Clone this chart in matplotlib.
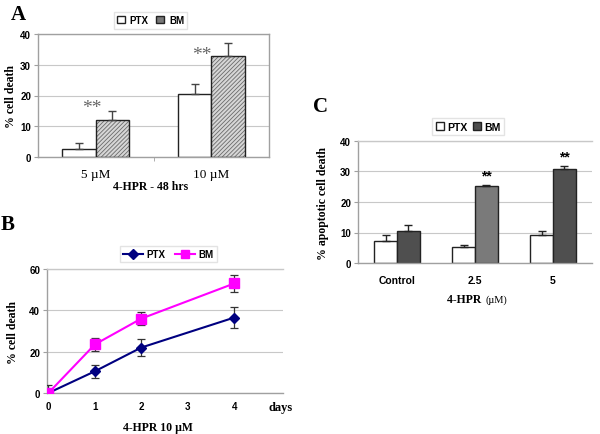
import matplotlib
matplotlib.use("Agg")
import matplotlib.pyplot as plt
import numpy as np
from matplotlib.patches import Patch
from matplotlib.lines import Line2D

plt.rcParams["hatch.linewidth"] = 0.6

# ---------------- data ----------------
# Panel A
a_categories = ["5 µM", "10 µM"]
a_ptx = [2.5, 20.5]
a_ptx_err = [2.0, 3.2]
a_bm = [12.0, 33.0]
a_bm_err = [3.0, 4.2]

# Panel B
b_days = [0, 1, 2, 4]
b_ptx = [0.0, 10.5, 22.0, 36.5]
b_ptx_err = [3.8, 3.0, 4.0, 5.0]
b_bm = [0.0, 23.5, 36.0, 53.0]
b_bm_err = [0.5, 3.0, 3.0, 4.0]

# Panel C
c_categories = ["Control", "2.5", "5"]
c_ptx = [7.2, 5.2, 9.2]
c_ptx_err = [1.9, 0.7, 1.2]
c_bm = [10.4, 25.1, 30.8]
c_bm_err = [2.0, 0.4, 0.9]

W, H = 600, 435
fig = plt.figure(figsize=(6, 4.35), dpi=100)
fig.patch.set_facecolor("white")

SANS = "Liberation Sans"
SERIF = "Liberation Serif"
GRAY = "#a0a0a0"
GRID = "#c8c8c8"


def px_axes(l, t, r, b):
    return fig.add_axes([l / W, 1 - b / H, (r - l) / W, (b - t) / H])


def style_box(ax):
    for s in ax.spines.values():
        s.set_color(GRAY)
        s.set_linewidth(1.0)
    ax.set_axisbelow(True)
    ax.yaxis.grid(True, color=GRID, linewidth=0.8)
    ax.tick_params(axis="y", length=3, color=GRAY, width=0.8, pad=2)
    for lab in ax.get_yticklabels():
        lab.set_fontfamily(SANS)
        lab.set_fontweight("bold")
        lab.set_fontsize(7)


def ftext(x, y, s, **kw):
    fig.text(x / W, 1 - y / H, s, **kw)


# ---------------- Panel A ----------------
axA = px_axes(38, 35, 269, 158)
xa = np.arange(len(a_categories))
bw = 0.29
axA.bar(xa - bw / 2, a_ptx, bw, color="white", edgecolor="#222222", linewidth=1.0, zorder=2)
axA.bar(xa + bw / 2, a_bm, bw, color="#d6d6d6", edgecolor="#6a6a6a", hatch="////////", linewidth=0, zorder=2)
axA.bar(xa + bw / 2, a_bm, bw, color="none", edgecolor="#222222", linewidth=1.0, zorder=3)
axA.errorbar(xa - bw / 2, a_ptx, yerr=[np.zeros(2), a_ptx_err], fmt="none",
             ecolor="#444444", elinewidth=1, capsize=3, capthick=1, zorder=4)
axA.errorbar(xa + bw / 2, a_bm, yerr=[np.zeros(2), a_bm_err], fmt="none",
             ecolor="#444444", elinewidth=1, capsize=3, capthick=1, zorder=4)
axA.set_xlim(-0.5, 1.5)
axA.set_ylim(0, 40)
axA.set_yticks([0, 10, 20, 30, 40])
axA.set_xticks(xa)
axA.set_xticklabels(a_categories, fontfamily=SERIF, fontsize=9.5)
axA.set_xticks([0.5], minor=True)
axA.tick_params(axis="x", which="major", length=0, pad=8)
axA.tick_params(axis="x", which="minor", length=3, color=GRAY)
style_box(axA)
axA.text(-0.03, 16.0, "**", ha="center", va="center", fontfamily=SERIF, fontsize=14, color="#666666")
axA.text(0.92, 33.2, "**", ha="center", va="center", fontfamily=SERIF, fontsize=14, color="#666666")
legA = axA.legend(handles=[Patch(facecolor="white", edgecolor="#222222", label="PTX"),
                           Patch(facecolor="#777777", edgecolor="#222222", label="BM")],
                  loc="lower center", bbox_to_anchor=(0.487, 1.005), ncol=2, frameon=True,
                  fancybox=False, edgecolor="#dddddd", handlelength=0.8, handleheight=0.8,
                  handletextpad=0.5, columnspacing=0.8, borderpad=0.35,
                  prop={"family": SANS, "weight": "bold", "size": 7})
ftext(18.5, 14.5, "A", fontfamily=SERIF, fontweight="bold", fontsize=15, ha="center", va="center")
ftext(11, 96, "% cell death", fontfamily=SERIF, fontweight="bold", fontsize=8.5,
      rotation=90, ha="center", va="center")
ftext(151, 187, "4-HPR - 48 hrs", fontfamily=SERIF, fontweight="bold", fontsize=8.5,
      ha="center", va="center")

# ---------------- Panel B ----------------
axB = px_axes(47, 270, 283, 394)
axB.errorbar(b_days, b_ptx, yerr=b_ptx_err, fmt="none", ecolor="#333333", elinewidth=0.9,
             capsize=3, capthick=0.9, zorder=3)
axB.errorbar(b_days, b_bm, yerr=b_bm_err, fmt="none", ecolor="#333333", elinewidth=0.9,
             capsize=3, capthick=0.9, zorder=3)
axB.plot(b_days, b_ptx, color="#000080", marker="D", markersize=5, linewidth=1.5, zorder=4)
axB.plot(b_days, b_bm, color="#ff00ff", marker="s", markersize=6.5, linewidth=1.5, zorder=4)
axB.set_xlim(-0.03, 5.05)
axB.set_ylim(0, 60)
axB.set_yticks([0, 20, 40, 60])
axB.set_xticks([0, 1, 2, 3, 4, 5])
axB.set_xticklabels(["0", "1", "2", "3", "4", "days"])
axB.tick_params(axis="x", length=0, pad=6)
for lab in axB.get_xticklabels():
    lab.set_fontfamily(SANS)
    lab.set_fontweight("bold")
    lab.set_fontsize(7)
dl = axB.get_xticklabels()[-1]
dl.set_fontfamily(SERIF)
dl.set_fontsize(9)
style_box(axB)
axB.spines["right"].set_visible(False)
axB.spines["top"].set_color("#c8c8c8")
legB = axB.legend(handles=[Line2D([], [], color="#000080", marker="D", markersize=5, lw=1.5, label="PTX"),
                           Line2D([], [], color="#ff00ff", marker="s", markersize=6, lw=1.5, label="BM")],
                  loc="lower center", bbox_to_anchor=(0.515, 1.015), ncol=2, frameon=True,
                  fancybox=False, edgecolor="#dddddd", handlelength=2.0,
                  handletextpad=0.4, columnspacing=1.0, borderpad=0.3,
                  prop={"family": SANS, "weight": "bold", "size": 7})
ftext(7.5, 225, "B", fontfamily=SERIF, fontweight="bold", fontsize=15, ha="center", va="center")
ftext(13, 332, "% cell death", fontfamily=SERIF, fontweight="bold", fontsize=8.5,
      rotation=90, ha="center", va="center")
ftext(158, 428, "4-HPR 10 µM", fontfamily=SERIF, fontweight="bold", fontsize=8.5,
      ha="center", va="center")

# ---------------- Panel C ----------------
axC = px_axes(358, 142, 592, 264)
xc = np.arange(len(c_categories))
bwc = 0.29
bm_colors = ["#4f4f4f", "#7a7a7a", "#4f4f4f"]
axC.bar(xc - bwc / 2, c_ptx, bwc, color="white", edgecolor="#222222", linewidth=1.0, zorder=2)
axC.bar(xc + bwc / 2, c_bm, bwc, color=bm_colors, edgecolor="#222222", linewidth=1.0, zorder=2)
axC.errorbar(xc - bwc / 2, c_ptx, yerr=[np.zeros(3), c_ptx_err], fmt="none",
             ecolor="#222222", elinewidth=1, capsize=3, capthick=1, zorder=4)
axC.errorbar(xc + bwc / 2, c_bm, yerr=[np.zeros(3), c_bm_err], fmt="none",
             ecolor="#222222", elinewidth=1, capsize=3, capthick=1, zorder=4)
axC.set_xlim(-0.5, 2.5)
axC.set_ylim(0, 40)
axC.set_yticks([0, 10, 20, 30, 40])
axC.set_xticks(xc)
axC.set_xticklabels(c_categories)
axC.tick_params(axis="x", length=0, pad=9)
for lab in axC.get_xticklabels():
    lab.set_fontfamily(SANS)
    lab.set_fontweight("bold")
    lab.set_fontsize(7.5)
style_box(axC)
axC.spines["right"].set_visible(False)
axC.spines["top"].set_color("#c8c8c8")
for i in (1, 2):
    axC.text(xc[i] + bwc / 2, c_bm[i] + c_bm_err[i] + 0.8, "**", ha="center", va="bottom",
             fontfamily=SANS, fontweight="bold", fontsize=10)
legC = axC.legend(handles=[Patch(facecolor="white", edgecolor="#222222", label="PTX"),
                           Patch(facecolor="#4f4f4f", edgecolor="#222222", label="BM")],
                  loc="lower center", bbox_to_anchor=(0.472, 1.005), ncol=2, frameon=True,
                  fancybox=False, edgecolor="#dddddd", handlelength=0.8, handleheight=0.8,
                  handletextpad=0.3, columnspacing=0.5, borderpad=0.35,
                  prop={"family": SANS, "weight": "bold", "size": 7.5})
ftext(320, 107.5, "C", fontfamily=SERIF, fontweight="bold", fontsize=15, ha="center", va="center")
ftext(323, 203, "% apoptotic cell death", fontfamily=SERIF, fontweight="bold", fontsize=8.5,
      rotation=90, ha="center", va="center")
ftext(484, 300, "4-HPR ", fontfamily=SERIF, fontweight="bold", fontsize=8.5,
      ha="right", va="center")
ftext(485, 300, "(µM)", fontfamily=SERIF, fontsize=7.5, ha="left", va="center")

fig.savefig("out.png", dpi=100, facecolor="white")
